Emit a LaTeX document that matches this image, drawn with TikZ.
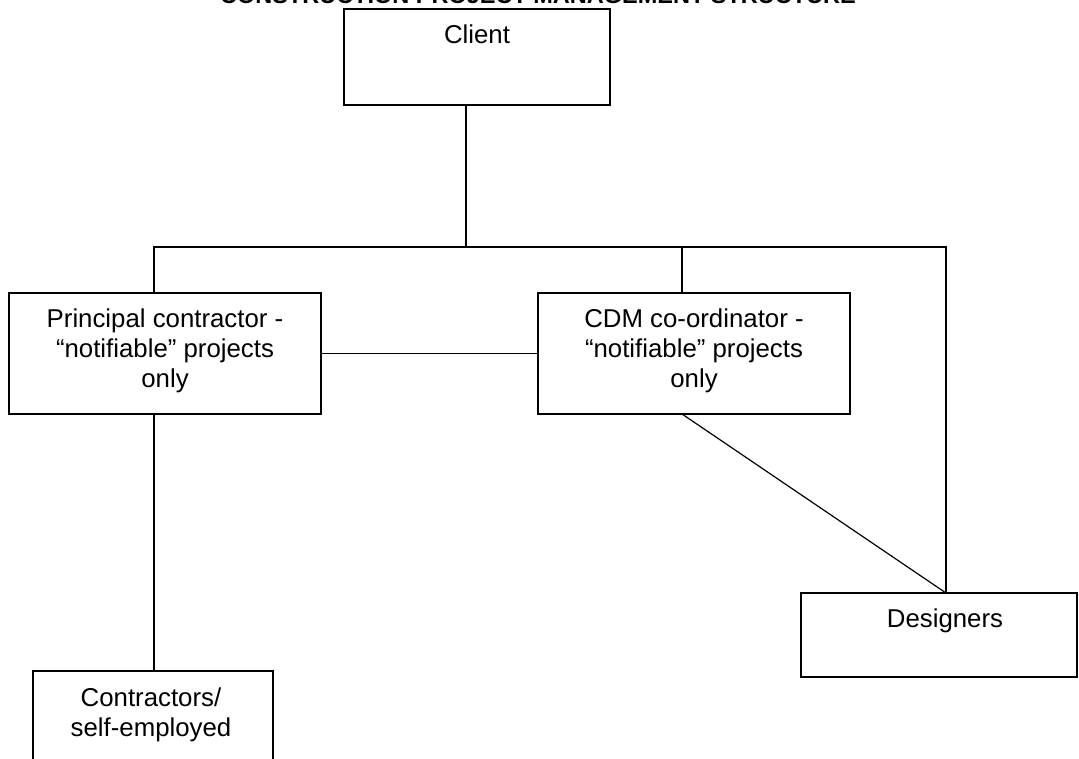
\documentclass[tikz,border=0pt]{standalone}
\usepackage{fontspec}
\setmainfont{Liberation Sans}
\begin{document}
\begin{tikzpicture}[x=1pt,y=-1pt,
  box/.style={draw=black,line width=1.2pt,inner sep=0pt,outer sep=0pt},
  lbl/.style={inner sep=0pt,outer sep=0pt,anchor=base,align=center,font=\fontsize{25.8}{29.8}\selectfont},
  conn/.style={draw=black,line width=1.2pt}]
\useasboundingbox (0,0) rectangle (1079,759);
\clip (0,0) rectangle (1079,759);
\fill[white] (0,0) rectangle (1079,759);
\node[inner sep=0pt,anchor=base,font=\fontsize{23.5}{28}\selectfont\bfseries] (title) at (538,4) {CONSTRUCTION PROJECT MANAGEMENT STRUCTURE};
% boxes
\node[box,minimum width=266,minimum height=96] (client) at (477,57) {};
\node[box,minimum width=312,minimum height=121] (principal) at (165,353.5) {};
\node[box,minimum width=312,minimum height=121] (cdm) at (694,353.5) {};
\node[box,minimum width=276,minimum height=84] (designers) at (939,635) {};
\node[box,minimum width=240,minimum height=129] (contractors) at (153,735.5) {};
% labels (base anchor = baseline of the last line)
\node[lbl] (clientT) at (477,44) {Client};
\node[lbl] (principalT) at (165,387) {Principal contractor -\\“notifiable” projects\\only};
\node[lbl] (cdmT) at (694,387) {CDM co-ordinator -\\“notifiable” projects\\only};
\node[lbl] (designersT) at (945,627) {Designers};
\node[lbl] (contractorsT) at (151,736) {Contractors/\\self-employed};
% bus coordinates
\coordinate (busL) at (154,247);
\coordinate (busC) at (466,247);
\coordinate (busM) at (682,247);
\coordinate (busR) at (946,247);
% connectors
\draw[conn] (client.south -| busC) -- (busC);
\draw[conn] (principal.north -| busL) -- (busL) -- (busR) -- (designers.north -| busR);
\draw[conn] (cdm.north -| busM) -- (busM);
\draw[conn] (principal) -- (cdm);
\draw[conn] (cdm.south -| busM) -- (designers.north -| busR);
\draw[conn] (principal.south -| busL) -- (contractors.north -| busL);
\end{tikzpicture}
\end{document}
